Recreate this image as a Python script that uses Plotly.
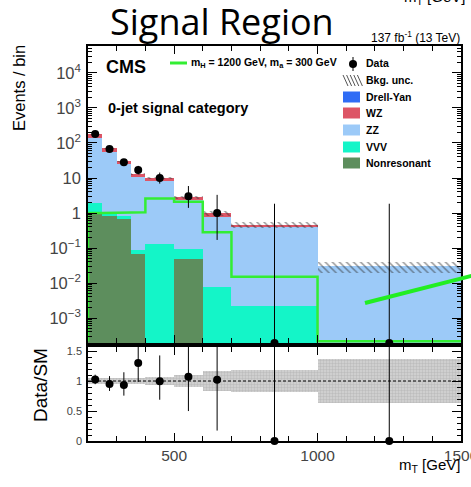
import plotly.graph_objects as go
import numpy as np

# ---------------- data ----------------
edges = [200, 250, 300, 350, 400, 500, 600, 700, 1000, 1500]
nonres = [0.98, 0.82, 0.66, 0.067, 0.0, 0.048, 0.0, 0.0, 0.0]
vvv = [0.89, 0.12, 0.16, 0.021, 0.127, 0.046, 0.0077, 0.0022, 0.0]
zz = [136, 56, 23.7, 10.9, 8.3, 2.26, 0.77, 0.40, 0.030]
wz = [38, 13.5, 5.5, 2.1, 1.6, 0.45, 0.20, 0.05, 0.0]
dy = [0, 0, 0, 0, 0, 0, 0, 0, 0]
bkg_unc = [0.045, 0.045, 0.045, 0.045, 0.065, 0.10, 0.16, 0.19, 0.36]
signal = [1.0, 1.0, 1.03, 1.05, 2.6, 2.1, 0.28, 0.015, 0.0]
data = [180, 67, 28, 17, 10, 3, 1, 0, 0]
data_err_lo = [13.4, 8.2, 5.3, 4.1, 3.1, 1.6, 0.83, 0.0, 0.0]
data_err_hi = [14.4, 9.2, 6.4, 5.2, 4.3, 2.9, 2.3, 1.84, 1.84]

ytick_vals = [1e-3, 1e-2, 1e-1, 1, 10, 1e2, 1e3, 1e4]
ytick_text = ["10<sup>\u22123</sup>", "10<sup>\u22122</sup>", "10<sup>\u22121</sup>", "1", "10",
              "10<sup>2</sup>", "10<sup>3</sup>", "10<sup>4</sup>"]
rtick_vals = [0, 0.5, 1, 1.5]
rtick_text = ["0", "0.5", "1", "1.5"]

# ---------------- derived ----------------
e = np.array(edges, float)
centers = 0.5 * (e[:-1] + e[1:])
widths = e[1:] - e[:-1]
nr = np.array(nonres); vv = np.array(vvv); z = np.array(zz); w = np.array(wz); d = np.array(dy)
c_nr = nr
c_vvv = c_nr + vv
c_zz = c_vvv + z
c_wz = c_zz + w
c_dy = c_wz + d
total = c_dy
unc = np.array(bkg_unc)

YR = [-3.714, 4.771]
R2 = [0, 1.567]
ymin = 10 ** YR[0]
yfloor = 10 ** (YR[0] + 0.05)

dat = np.array(data, float)
elo = np.array(data_err_lo); ehi = np.array(data_err_hi)
dat_plot = np.where(dat > 0, dat, ymin)
ehi_plot = dat + ehi - dat_plot
elo_plot = np.where(dat > 0, elo, 0)

ratio = dat / total
r_hi = np.minimum(ratio + ehi / total, R2[1]) - ratio
r_lo = np.minimum(elo / total, ratio)

C_NR = "#5d8e5d"
C_VVV = "#14f5c8"
C_ZZ = "#9ccaf8"
C_WZ = "#dd5566"
C_DY = "#2f6cf5"
C_SIG = "#33ee33"

fig = go.Figure()

def stackbar(vals, color, name):
    fig.add_trace(go.Bar(x=centers, y=vals, width=widths, marker=dict(color=color, line=dict(width=0)),
                         name=name, showlegend=False, xaxis="x", yaxis="y"))

stackbar(c_dy, C_DY, "Drell-Yan")
stackbar(c_wz, C_WZ, "WZ")
stackbar(c_zz, C_ZZ, "ZZ")
stackbar(c_vvv, C_VVV, "VVV")
stackbar(c_nr, C_NR, "Nonresonant")

# background uncertainty hatch
fig.add_trace(go.Bar(x=centers, y=2 * total * unc, base=total * (1 - unc), width=widths,
                     marker=dict(color="rgba(0,0,0,0)", line=dict(width=0),
                                 pattern=dict(shape="\\", fgcolor="#333333", bgcolor="rgba(0,0,0,0)",
                                              size=5, solidity=0.3, fillmode="overlay")),
                     showlegend=False, xaxis="x", yaxis="y", name="Bkg. unc."))

# signal step line
sx, sy = [edges[0]], [yfloor]
for i in range(len(signal)):
    v = signal[i] if signal[i] > 0 else yfloor
    sx += [edges[i], edges[i + 1]]
    sy += [v, v]
sx.append(edges[-1]); sy.append(yfloor)
fig.add_trace(go.Scatter(x=sx, y=sy, mode="lines", line=dict(color=C_SIG, width=2.5),
                         showlegend=False, xaxis="x", yaxis="y", name="signal"))

# data
fig.add_trace(go.Scatter(x=centers, y=dat_plot, mode="markers",
                         marker=dict(color="black", size=8),
                         error_y=dict(type="data", array=ehi_plot, arrayminus=elo_plot,
                                      color="black", thickness=1, width=0),
                         cliponaxis=False, showlegend=False, xaxis="x", yaxis="y", name="Data"))

# ratio band
fig.add_trace(go.Bar(x=centers, y=2 * unc, base=1 - unc, width=widths,
                     marker=dict(color="#d2d2d2", line=dict(width=0),
                                 pattern=dict(shape=".", fgcolor="#bdbdbd", bgcolor="#d6d6d6",
                                              size=3, solidity=0.5, fillmode="replace")),
                     showlegend=False, xaxis="x2", yaxis="y2"))
fig.add_trace(go.Scatter(x=centers, y=ratio, mode="markers",
                         marker=dict(color="black", size=8),
                         error_y=dict(type="data", array=r_hi, arrayminus=r_lo,
                                      color="black", thickness=1, width=0),
                         cliponaxis=False, showlegend=False, xaxis="x2", yaxis="y2"))

W, H = 471, 487
L, R, T, B = 88, 10, 46, 46
PW, PH = W - L - R, H - T - B

def PX(X):
    return (X - L) / PW

def PY(Y):
    return (H - B - Y) / PH

shapes = [dict(type="line", xref="x2", yref="y2", x0=edges[0], x1=edges[-1], y0=1, y1=1,
               line=dict(color="black", width=1, dash="3px,2px"))]

# manual legend
rows = {"Bkg. unc.": 80, "Drell-Yan": 97, "WZ": 113, "ZZ": 130, "VVV": 147, "Nonresonant": 163}
cols = {"Drell-Yan": C_DY, "WZ": C_WZ, "ZZ": C_ZZ, "VVV": C_VVV, "Nonresonant": C_NR}
for k, c in cols.items():
    yy = rows[k]
    shapes.append(dict(type="rect", xref="paper", yref="paper", x0=PX(343), x1=PX(360),
                       y0=PY(yy + 5.5), y1=PY(yy - 5.5), fillcolor=c, line=dict(width=0)))
for k in range(5):
    x0 = 343 + 3.6 * k
    shapes.append(dict(type="line", xref="paper", yref="paper", x0=PX(x0), x1=PX(x0 + 5),
                       y0=PY(75), y1=PY(86), line=dict(color="#555555", width=1)))
shapes.append(dict(type="line", xref="paper", yref="paper", x0=PX(170), x1=PX(187),
                   y0=PY(63), y1=PY(63), line=dict(color=C_SIG, width=3)))
shapes.append(dict(type="line", xref="paper", yref="paper", x0=PX(353), x1=PX(353),
                   y0=PY(57), y1=PY(71), line=dict(color="black", width=1)))
shapes.append(dict(type="circle", xref="paper", yref="paper", x0=PX(349), x1=PX(357),
                   y0=PY(68), y1=PY(60), fillcolor="black", line=dict(width=0)))
# slide arrow annotation
shapes.append(dict(type="line", xref="paper", yref="paper", x0=PX(365), x1=PX(475),
                   y0=PY(303), y1=PY(275), line=dict(color="#22ee22", width=4)))

ARIAL = "Liberation Sans, Arial, sans-serif"
annotations = []

def ann(text, X, Y, size, xanchor="left", bold=False, family=ARIAL, angle=0, color="black"):
    annotations.append(dict(text=("<b>%s</b>" % text) if bold else text, x=PX(X), y=PY(Y),
                            xref="paper", yref="paper", xanchor=xanchor, yanchor="middle",
                            showarrow=False, textangle=angle,
                            font=dict(family=family, size=size, color=color)))

ann("Signal Region", 222, 21, 36, xanchor="center", family="Open Sans, sans-serif")
ann("137 fb<sup>-1</sup> (13 TeV)", 462, 37, 12, xanchor="right")
ann("CMS", 104, 66.5, 18, bold=True)
ann("0-jet signal category", 106, 108, 14.5, bold=True)
ann("m<sub>H</sub> = 1200 GeV, m<sub>a</sub> = 300 GeV", 189, 63, 10.5, bold=True)
ann("Data", 364, 63, 10.5, bold=True)
for k, yy in rows.items():
    ann(k, 364, yy, 10.5, bold=True)
ann("Events / bin", 19, 88, 16.5, xanchor="center", angle=-90)
ann("Data/SM", 40, 385, 19, xanchor="center", angle=-90)
ann("m<sub>T</sub> [GeV]", 462, 466, 15, xanchor="right")
ann("m<sub>T</sub> [GeV]", 467, -3, 15, xanchor="right")

axis_common = dict(showline=True, linecolor="black", linewidth=1.5, mirror="ticks",
                   ticks="inside", tickcolor="black", showgrid=False, zeroline=False)

fig.update_layout(
    template="none",
    width=W, height=H,
    margin=dict(l=L, r=R, t=T, b=B, pad=0),
    paper_bgcolor="white", plot_bgcolor="white",
    barmode="overlay", bargap=0,
    showlegend=False,
    xaxis=dict(domain=[0, 1], anchor="y", range=[edges[0], edges[-1]], showticklabels=False,
               tick0=0, dtick=500, ticklen=8,
               minor=dict(dtick=100, ticklen=5, ticks="inside", tickcolor="black"), **axis_common),
    yaxis=dict(domain=[PY(343), 1], anchor="x", type="log", range=YR,
               tickmode="array", tickvals=ytick_vals, ticktext=ytick_text, ticklen=9,
               tickfont=dict(family=ARIAL, size=16.5), ticklabelstandoff=2,
               minor=dict(dtick="D1", ticklen=4, ticks="inside", tickcolor="black"), **axis_common),
    xaxis2=dict(domain=[0, 1], anchor="y2", range=[edges[0], edges[-1]], matches="x",
                tick0=0, dtick=500, ticklen=8, ticklabeloverflow="allow",
                tickfont=dict(family=ARIAL, size=15.5),
                minor=dict(dtick=100, ticklen=5, ticks="inside", tickcolor="black"), **axis_common),
    yaxis2=dict(domain=[0, PY(347)], anchor="x2", range=R2,
                tickmode="array", tickvals=rtick_vals, ticktext=rtick_text, ticklen=9,
                tickfont=dict(family=ARIAL, size=11), ticklabelstandoff=2,
                minor=dict(dtick=0.1, ticklen=4, ticks="inside", tickcolor="black"), **axis_common),
    shapes=shapes,
    annotations=annotations,
)

fig.write_html("out.html")
